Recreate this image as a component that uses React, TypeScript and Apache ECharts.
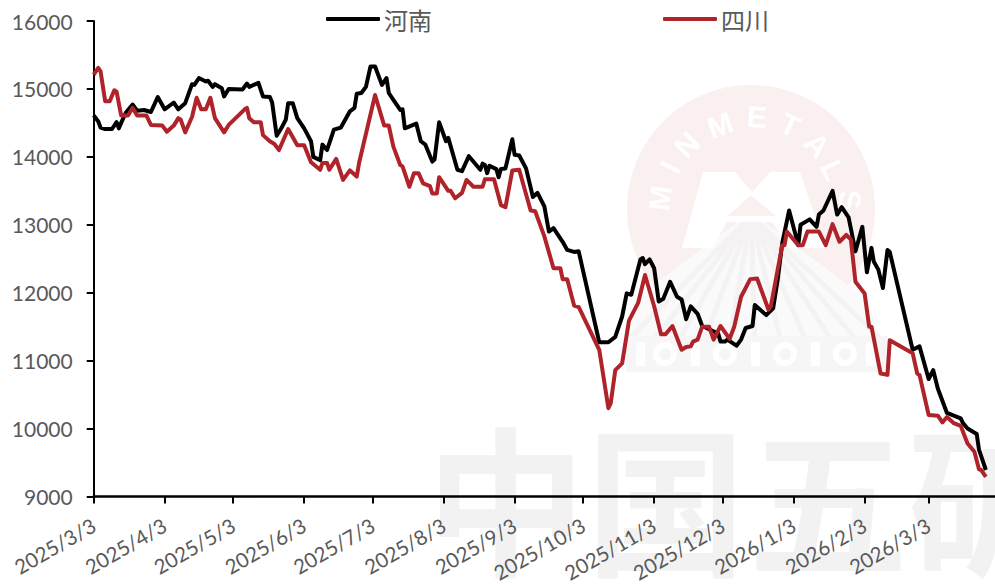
import React, { useEffect, useRef } from "react";
import * as echarts from "echarts";

const seriesNames = ["河南", "四川"];
const tickLabels = ["2025/3/3","2025/4/3","2025/5/3","2025/6/3","2025/7/3","2025/8/3","2025/9/3","2025/10/3","2025/11/3","2025/12/3","2026/1/3","2026/2/3","2026/3/3"];
const lastDay = 394;
// [days since 2025/3/3, price]
const henan = [[0,14610],[2,14520],[3,14430],[5,14410],[8,14410],[10,14510],[11,14420],[12,14500],[14,14650],[17,14770],[19,14680],[22,14690],[25,14660],[28,14880],[31,14700],[35,14800],[37,14700],[40,14790],[43,15070],[44,15060],[46,15160],[49,15110],[50,15120],[52,15030],[53,15070],[56,15010],[57,14890],[59,15000],[65,14990],[67,15080],[68,15030],[72,15090],[74,14890],[77,14880],[78,14800],[80,14310],[82,14420],[84,14550],[85,14790],[87,14790],[89,14570],[92,14420],[95,14230],[96,14000],[99,13950],[100,14180],[102,14100],[105,14400],[108,14430],[112,14670],[114,14720],[115,14930],[117,14940],[119,15030],[121,15330],[123,15330],[126,15060],[128,15160],[129,14940],[131,14840],[134,14690],[135,14700],[136,14420],[141,14490],[143,14230],[145,14180],[148,13930],[149,13960],[151,14510],[154,14230],[155,14280],[159,13810],[161,13790],[164,14010],[169,13810],[170,13900],[171,13880],[172,13760],[173,13870],[176,13820],[177,13700],[178,13820],[180,13830],[183,14260],[184,14030],[186,14020],[189,13830],[192,13410],[194,13470],[197,13270],[199,12900],[201,12950],[205,12750],[207,12630],[210,12600],[212,12610],[221,11270],[225,11270],[228,11350],[231,11650],[233,11990],[235,11970],[239,12490],[240,12510],[241,12420],[243,12490],[245,12360],[247,11870],[249,11910],[252,12160],[255,11940],[257,11900],[259,11610],[261,11800],[264,11690],[266,11510],[273,11400],[274,11280],[276,11280],[277,11310],[281,11220],[283,11310],[285,11480],[288,11510],[289,11820],[294,11670],[297,11770],[299,12190],[301,12730],[304,13210],[308,12700],[309,13000],[313,13080],[316,12970],[317,13150],[319,13210],[323,13500],[325,13150],[327,13260],[330,13110],[333,12610],[336,12970],[338,12300],[340,12660],[341,12460],[343,12340],[345,12070],[347,12630],[348,12600],[358,11160],[361,11210],[365,10730],[367,10860],[369,10590],[373,10230],[379,10150],[380,10080],[382,10000],[386,9920],[387,9690],[390,9390]];
const sichuan = [[0,15210],[2,15310],[3,15260],[5,14820],[7,14820],[9,14980],[10,14960],[12,14610],[15,14610],[17,14720],[19,14610],[23,14610],[25,14470],[30,14460],[32,14370],[35,14460],[37,14570],[38,14550],[40,14360],[43,14590],[45,14870],[47,14700],[49,14700],[51,14870],[53,14570],[57,14360],[59,14470],[66,14700],[67,14720],[68,14570],[70,14510],[73,14510],[74,14320],[77,14230],[79,14190],[81,14100],[85,14410],[89,14170],[92,14170],[95,13920],[99,13810],[100,13910],[102,13910],[103,13810],[106,13970],[109,13660],[112,13800],[115,13710],[116,13910],[123,14910],[127,14460],[129,14460],[131,14150],[134,13880],[135,13860],[138,13560],[140,13760],[142,13760],[144,13610],[147,13570],[148,13460],[150,13460],[151,13700],[155,13500],[156,13500],[158,13390],[161,13470],[163,13660],[166,13560],[170,13560],[171,13670],[175,13670],[178,13290],[180,13260],[183,13800],[186,13810],[191,13210],[193,13200],[197,12830],[201,12360],[204,12360],[205,12200],[207,12200],[210,11810],[212,11790],[221,11160],[225,10300],[226,10370],[228,10860],[231,10960],[234,11590],[238,11850],[241,12260],[245,11800],[248,11390],[250,11390],[253,11510],[257,11160],[259,11200],[261,11210],[262,11280],[264,11310],[266,11500],[269,11500],[271,11310],[274,11510],[278,11320],[280,11500],[283,11940],[287,12200],[290,12210],[295,11750],[296,11800],[301,12700],[302,12700],[303,12900],[308,12700],[310,12700],[312,12900],[317,12900],[320,12700],[323,13010],[326,12750],[329,12850],[331,12780],[333,12160],[337,11990],[339,11500],[340,11500],[344,10810],[347,10790],[348,11300],[358,11110],[360,10810],[361,10790],[365,10200],[369,10190],[371,10090],[373,10170],[376,10080],[379,10040],[382,9780],[385,9660],[387,9400],[388,9390],[390,9290]];
const bigMark = ["中", "国", "五", "矿"];
const logoLetters = "MINMETALS".split("");

const dayMs = 86400000;
const toDay = (s: string) => {
  const [y, m, d] = s.split("/").map(Number);
  return Math.round((Date.UTC(y, m - 1, d) - Date.UTC(2025, 2, 3)) / dayMs);
};
const tickDays = tickLabels.map(toDay);

function watermark() {
  const cx = 751, cy = 209, r = 124;
  const els: any[] = [];
  els.push({ type: "circle", z: -5, shape: { cx, cy, r }, style: { fill: "#faf0f0" } });
  // mountain below the M
  els.push({ type: "polygon", z: -4, shape: { points: [[751, 212], [868, 300], [890, 372], [628, 372], [634, 300]] }, style: { fill: "#fbfafa" } });
  const rayEnds = [630, 655, 680, 705, 730, 755, 780, 805, 830, 855, 880];
  rayEnds.forEach((xe) => {
    els.push({ type: "line", z: -3, shape: { x1: 751, y1: 216, x2: xe, y2: 338 }, style: { stroke: "#f4f2f2", lineWidth: 5 } });
  });
  // M
  els.push({ type: "polygon", z: -2, shape: { points: [[682, 248], [703, 172], [735, 172], [752, 192], [770, 172], [800, 172], [826, 248], [790, 248], [772, 222], [727, 222], [712, 248]] }, style: { fill: "#ffffff" } });
  els.push({ type: "polygon", z: -2, shape: { points: [[728, 216], [751, 195], [776, 216]] }, style: { fill: "#faf0f0" } });
  // band
  els.push({ type: "rect", z: -2, shape: { x: 626, y: 336, width: 262, height: 36 }, style: { fill: "#f6f6f6" } });
  [640, 665, 695, 725, 755, 785, 815, 845, 870].forEach((x, i) => {
    if (i % 2 === 0) els.push({ type: "rect", z: -1, shape: { x: x - 4, y: 342, width: 9, height: 24 }, style: { fill: "#ffffff" } });
    else els.push({ type: "circle", z: -1, shape: { cx: x, cy: 354, r: 9 }, style: { fill: "none", stroke: "#ffffff", lineWidth: 6 } });
  });
  const pts = [[660, 198], [670, 167], [687, 145], [720, 125], [757, 117], [790, 125], [817, 145], [833, 170], [850, 200]];
  logoLetters.forEach((ch, i) => {
    const [x, y] = pts[i];
    const rot = Math.atan2(cx - x, cy - y);
    els.push({ type: "text", z: -1, x, y, rotation: rot, style: { text: ch, fill: "#ffffff", font: "bold 30px 'Liberation Sans'", align: "center", verticalAlign: "middle" } });
  });
  const bigX = [506, 666, 828, 988];
  bigMark.forEach((ch, i) => {
    els.push({ type: "text", z: -5, x: bigX[i], y: 494, style: { text: ch, fill: "#f2f2f2", font: "bold 160px 'Noto Sans CJK SC'", align: "center", verticalAlign: "middle" } });
  });
  return els;
}

export default function App() {
  const ref = useRef<HTMLDivElement>(null);
  useEffect(() => {
    const chart = echarts.init(ref.current!, undefined, { renderer: "svg" });
    const legendBase = { top: 2, itemWidth: 54, itemHeight: 4, icon: "roundRect", itemGap: 0, textStyle: { color: "#595959", fontSize: 24, fontFamily: "'Noto Sans CJK SC'", padding: [0, 0, 6, -1] } };
    chart.setOption({
      animation: false,
      backgroundColor: "#ffffff",
      graphic: { elements: watermark() },
      legend: [
        { ...legendBase, left: 321, data: [seriesNames[0]] },
        { ...legendBase, left: 658, data: [seriesNames[1]] },
      ],
      grid: { left: 93.7, right: 0, top: 21, height: 475.5, containLabel: false, outerBoundsMode: "none" },
      xAxis: {
        type: "value",
        min: 0,
        max: lastDay,
        splitLine: { show: false },
        axisLine: { lineStyle: { color: "#000", width: 2.5 }, onZero: false },
        axisTick: { show: true, length: 7, customValues: tickDays, lineStyle: { color: "#000", width: 2 } },
        axisLabel: {
          customValues: tickDays,
          rotate: 30,
          margin: 27,
          color: "#595959",
          fontSize: 20.5,
          fontFamily: "Lato",
          formatter: (v: number) => tickLabels[tickDays.indexOf(v)] ?? "",
        },
      },
      yAxis: {
        type: "value",
        min: 9000,
        max: 16000,
        interval: 1000,
        splitLine: { show: false },
        axisLine: { show: true, lineStyle: { color: "#000", width: 2 } },
        axisTick: { show: true, length: 7, lineStyle: { color: "#000", width: 2 } },
        axisLabel: { color: "#595959", fontSize: 21, fontFamily: "Lato", margin: 21, formatter: (v: number) => String(v) },
      },
      series: [
        { name: seriesNames[0], type: "line", data: henan, showSymbol: false, lineStyle: { color: "#000", width: 4, join: "round" }, itemStyle: { color: "#000" } },
        { name: seriesNames[1], type: "line", data: sichuan, showSymbol: false, lineStyle: { color: "#b0232a", width: 4, join: "round" }, itemStyle: { color: "#b0232a" } },
      ],
    });
    return () => chart.dispose();
  }, []);
  return <div ref={ref} style={{ position: "fixed", left: 0, top: 0, width: 995, height: 584 }} />;
}
